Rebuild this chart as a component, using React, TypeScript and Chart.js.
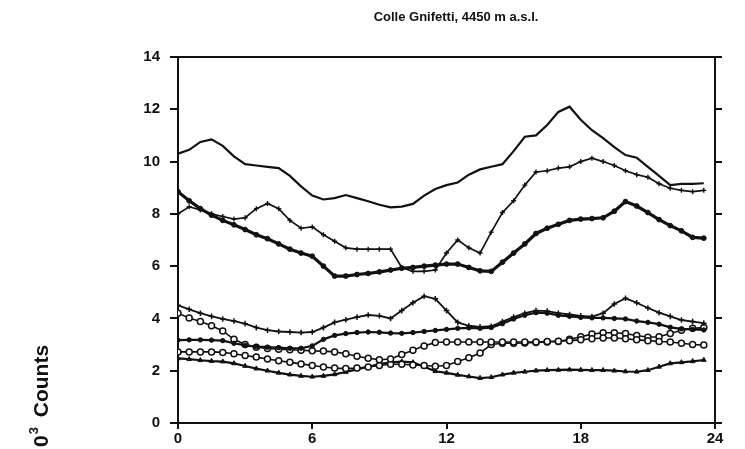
import React, { useEffect, useRef } from "react";
import { Chart, registerables } from "chart.js";

Chart.register(...registerables);

// Local time of day (h), half-hourly
const hours = [
  0, 0.5, 1, 1.5, 2, 2.5, 3, 3.5, 4, 4.5, 5, 5.5, 6, 6.5, 7, 7.5, 8, 8.5, 9, 9.5,
  10, 10.5, 11, 11.5, 12, 12.5, 13, 13.5, 14, 14.5, 15, 15.5, 16, 16.5, 17, 17.5,
  18, 18.5, 19, 19.5, 20, 20.5, 21, 21.5, 22, 22.5, 23, 23.5,
];

// Upper group
const solidTop = [
  10.3, 10.45, 10.75, 10.85, 10.6, 10.2, 9.9, 9.85, 9.8, 9.75, 9.45, 9.05, 8.7, 8.55, 8.6, 8.72,
  8.6, 8.48, 8.35, 8.25, 8.28, 8.38, 8.7, 8.95, 9.1, 9.2, 9.5, 9.7, 9.8, 9.9, 10.4, 10.95,
  11.0, 11.4, 11.9, 12.1, 11.6, 11.2, 10.9, 10.55, 10.25, 10.15, 9.8, 9.45, 9.1, 9.15, 9.15, 9.17,
];
const plusUpper = [
  8.0, 8.27, 8.15, 8.0, 7.9, 7.8, 7.85, 8.2, 8.4, 8.2, 7.75, 7.45, 7.5, 7.2, 6.95, 6.7,
  6.65, 6.65, 6.65, 6.65, 5.95, 5.8, 5.8, 5.85, 6.5, 7.0, 6.7, 6.5, 7.3, 8.05, 8.5, 9.1,
  9.6, 9.65, 9.75, 9.8, 10.0, 10.13, 10.0, 9.85, 9.65, 9.5, 9.4, 9.15, 8.98, 8.9, 8.85, 8.9,
];
const boldDots = [
  8.85, 8.5, 8.2, 7.95, 7.75, 7.58, 7.4, 7.2, 7.05, 6.85, 6.65, 6.5, 6.38, 6.0, 5.62, 5.62,
  5.68, 5.72, 5.78, 5.85, 5.92, 5.95, 6.0, 6.04, 6.08, 6.08, 5.95, 5.82, 5.8, 6.15, 6.5, 6.85,
  7.25, 7.45, 7.6, 7.75, 7.8, 7.82, 7.85, 8.1, 8.47, 8.3, 8.05, 7.78, 7.55, 7.35, 7.1, 7.07,
];

// Lower group
const plusLower = [
  4.5, 4.35, 4.2, 4.08, 3.98, 3.9, 3.8, 3.65, 3.55, 3.5, 3.48, 3.46, 3.48, 3.65, 3.85, 3.95,
  4.05, 4.13, 4.1, 4.0, 4.3, 4.6, 4.85, 4.75, 4.3, 3.85, 3.72, 3.68, 3.7, 3.88, 4.05, 4.2,
  4.3, 4.28, 4.2, 4.15, 4.1, 4.07, 4.2, 4.55, 4.77, 4.6, 4.4, 4.22, 4.08, 3.94, 3.88, 3.82,
];
const dotsMid = [
  3.17, 3.18, 3.18, 3.17, 3.15, 3.05, 2.97, 2.92, 2.9, 2.88, 2.86, 2.86, 2.95, 3.2, 3.35, 3.42,
  3.46, 3.48, 3.47, 3.44, 3.43, 3.46, 3.5, 3.54, 3.58, 3.62, 3.64, 3.62, 3.65, 3.8, 3.98, 4.12,
  4.22, 4.2, 4.12, 4.08, 4.04, 4.02, 4.02, 4.0, 3.98, 3.9, 3.85, 3.78, 3.66, 3.6, 3.58, 3.56,
];
const circlesA = [
  4.2, 4.02, 3.88, 3.72, 3.52, 3.2, 3.0, 2.9, 2.85, 2.82, 2.8, 2.78, 2.76, 2.75, 2.72, 2.65,
  2.55, 2.48, 2.42, 2.45, 2.62, 2.78, 2.95, 3.08, 3.1, 3.1, 3.1, 3.1, 3.1, 3.1, 3.1, 3.1,
  3.1, 3.12, 3.13, 3.15, 3.18, 3.22, 3.25, 3.25, 3.22, 3.18, 3.15, 3.12, 3.1, 3.05, 3.0, 2.98,
];
const circlesB = [
  2.72, 2.72, 2.72, 2.72, 2.7, 2.65, 2.58, 2.52, 2.45, 2.38, 2.32, 2.26, 2.2, 2.14, 2.1, 2.08,
  2.1, 2.14, 2.2, 2.25, 2.25, 2.22, 2.2, 2.17, 2.2, 2.35, 2.5, 2.68, 3.0, 3.05, 3.05, 3.06,
  3.08, 3.1, 3.12, 3.2, 3.3, 3.4, 3.45, 3.45, 3.42, 3.35, 3.28, 3.3, 3.42, 3.55, 3.62, 3.65,
];
const trianglesLow = [
  2.47, 2.44, 2.4, 2.37, 2.35, 2.28, 2.18, 2.08, 2.0, 1.92, 1.85, 1.8, 1.77, 1.8, 1.86, 1.95,
  2.05, 2.15, 2.25, 2.32, 2.35, 2.32, 2.15, 1.98, 1.92, 1.84, 1.78, 1.72, 1.75, 1.85, 1.92, 1.96,
  2.0, 2.02, 2.03, 2.04, 2.03, 2.02, 2.02, 2.0, 1.97, 1.96, 2.02, 2.15, 2.28, 2.32, 2.36, 2.41,
];

const xTicks = [0, 6, 12, 18, 24];
const yTicks = [0, 2, 4, 6, 8, 10, 12, 14];

const titleText = "Colle Gnifetti, 4450 m a.s.l.";
const FONT = "'Liberation Sans', Arial, Helvetica, sans-serif";
const INK = "#111";

const pts = (vals: number[]) => hours.map((h, i) => ({ x: h, y: vals[i] }));

const annotate = {
  id: "annotate",
  afterDraw(chart: any) {
    const { ctx } = chart;
    ctx.save();
    ctx.fillStyle = INK;
    // heading
    ctx.font = `bold 13px ${FONT}`;
    ctx.textAlign = "center";
    ctx.textBaseline = "middle";
    ctx.fillText(titleText, 456, 17);
    // vertical axis caption, reading upwards, at the bottom left
    ctx.translate(48, 447);
    ctx.rotate(-Math.PI / 2);
    ctx.textAlign = "left";
    ctx.textBaseline = "alphabetic";
    ctx.font = `bold 21px ${FONT}`;
    ctx.fillText("0", 0, 0);
    let w = ctx.measureText("0").width;
    ctx.font = `bold 13px ${FONT}`;
    ctx.fillText("3", w + 1, -10);
    w += ctx.measureText("3").width + 1;
    ctx.font = `bold 21px ${FONT}`;
    ctx.fillText(" Counts", w + 4, 0);
    ctx.restore();
  },
};

export default function App() {
  const ref = useRef<HTMLCanvasElement | null>(null);

  useEffect(() => {
    if (!ref.current) return;
    const line = { borderColor: INK, pointBorderColor: INK, tension: 0, fill: false };
    const chart = new Chart(ref.current, {
      type: "line",
      data: {
        datasets: [
          { ...line, label: "a", data: pts(solidTop), borderWidth: 2.2, pointRadius: 0 },
          {
            ...line, label: "b", data: pts(plusUpper), borderWidth: 1.7,
            pointStyle: "cross", pointRadius: 2.5, pointBorderWidth: 1.4,
          },
          {
            ...line, label: "c", data: pts(boldDots), borderWidth: 3.2,
            pointStyle: "circle", pointRadius: 2.4, pointBackgroundColor: INK, pointBorderWidth: 1,
          },
          {
            ...line, label: "d", data: pts(plusLower), borderWidth: 1.8,
            pointStyle: "cross", pointRadius: 2.8, pointBorderWidth: 1.5,
          },
          {
            ...line, label: "e", data: pts(dotsMid), borderWidth: 2.2,
            pointStyle: "circle", pointRadius: 2.2, pointBackgroundColor: INK, pointBorderWidth: 1,
          },
          {
            ...line, label: "f", data: pts(circlesA), borderWidth: 1.6,
            pointStyle: "circle", pointRadius: 3, pointBackgroundColor: "#fff", pointBorderWidth: 1.5,
          },
          {
            ...line, label: "g", data: pts(circlesB), borderWidth: 1.6,
            pointStyle: "circle", pointRadius: 3, pointBackgroundColor: "#fff", pointBorderWidth: 1.5,
          },
          {
            ...line, label: "h", data: pts(trianglesLow), borderWidth: 2.2,
            pointStyle: "triangle", pointRadius: 2.7, pointBackgroundColor: INK, pointBorderWidth: 1,
          },
        ],
      },
      options: {
        animation: false,
        responsive: false,
        devicePixelRatio: 1,
        layout: { padding: { top: 57, left: 118, right: 20, bottom: 0 } },
        plugins: { legend: { display: false }, title: { display: false }, tooltip: { enabled: false } },
        scales: {
          x: {
            type: "linear", position: "bottom", min: 0, max: 24,
            afterBuildTicks: (s: any) => { s.ticks = xTicks.map((v) => ({ value: v })); },
            afterFit: (s: any) => { s.height = 26; },
            ticks: { color: INK, font: { family: FONT, size: 15, weight: "bold" }, padding: 1, maxRotation: 0 },
            grid: { drawOnChartArea: false, drawTicks: true, tickLength: 6, color: INK, lineWidth: 2 },
            border: { display: true, color: INK, width: 2 },
          },
          x2: {
            type: "linear", position: "top", min: 0, max: 24,
            afterFit: (s: any) => { s.height = 0; },
            ticks: { display: false },
            grid: { display: false, drawTicks: false },
            border: { display: true, color: INK, width: 2 },
          },
          y: {
            type: "linear", position: "left", min: 0, max: 14,
            afterBuildTicks: (s: any) => { s.ticks = yTicks.map((v) => ({ value: v })); },
            afterFit: (s: any) => { s.width = 60; },
            ticks: { color: INK, font: { family: FONT, size: 15, weight: "bold" }, padding: 10 },
            grid: { drawOnChartArea: false, drawTicks: true, tickLength: 8, color: INK, lineWidth: 2 },
            border: { display: true, color: INK, width: 2 },
          },
          y2: {
            type: "linear", position: "right", min: 0, max: 14,
            afterBuildTicks: (s: any) => { s.ticks = yTicks.map((v) => ({ value: v })); },
            afterFit: (s: any) => { s.width = 10; },
            ticks: { display: false },
            grid: { drawOnChartArea: false, drawTicks: true, tickLength: 7, color: INK, lineWidth: 2 },
            border: { display: true, color: INK, width: 2 },
          },
        },
      },
      plugins: [annotate],
    });
    return () => chart.destroy();
  }, []);

  return (
    <div style={{ position: "absolute", left: 0, top: 0, width: 745, height: 449, background: "#fff" }}>
      <canvas ref={ref} width={745} height={449} style={{ display: "block" }} />
    </div>
  );
}
